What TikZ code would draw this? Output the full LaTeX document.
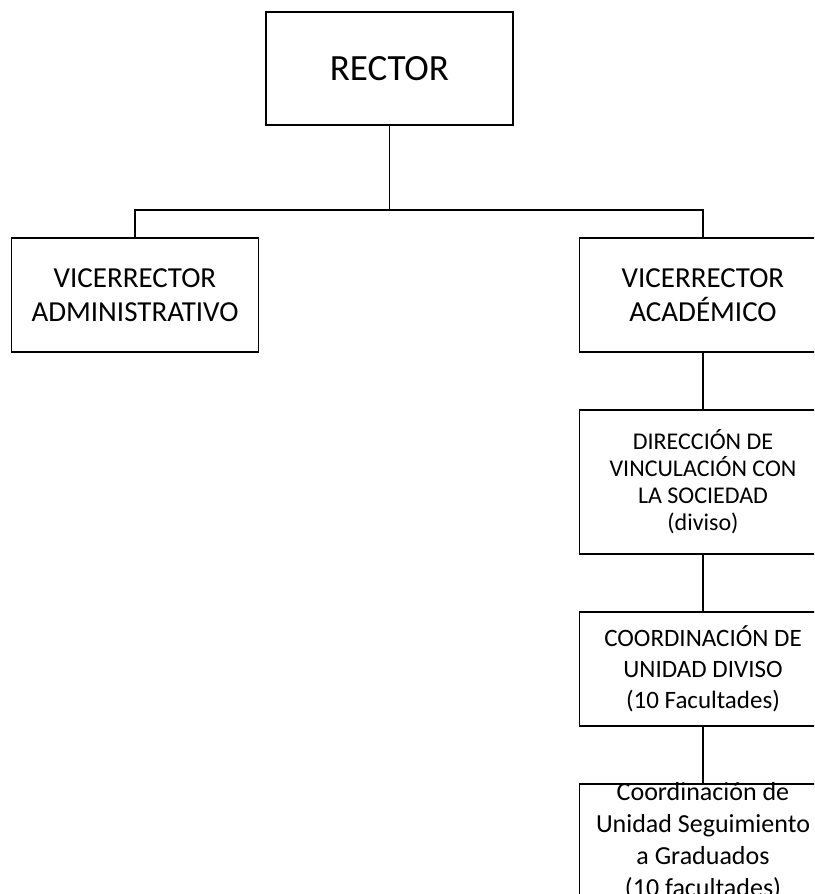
\documentclass[tikz,border=0pt]{standalone}
\usepackage{fontspec}
\setmainfont{Carlito}
\usetikzlibrary{positioning}

\begin{document}
\begin{tikzpicture}[
  x=1pt, y=-1pt,
  node distance=56pt,
  orgbox/.style={rectangle, draw=black, line width=1.9pt, fill=white,
               minimum width=247pt, minimum height=114pt, inner sep=0pt, align=center},
  link/.style={draw=black, line width=1.9pt}
]
\useasboundingbox (0,0) rectangle (814,894);
\clip (0,0) rectangle (814,894);
\node[orgbox, minimum height=113pt, font=\fontsize{37}{44}\selectfont] (rector) at (389.5,68.5) {RECTOR};
\node[orgbox, font=\fontsize{29}{34}\selectfont] (vicadm) at (135,295) {VICERRECTOR\\ADMINISTRATIVO};
\node[orgbox, font=\fontsize{29}{34}\selectfont] (vicaca) at (703,295) {VICERRECTOR\\ACADÉMICO};
\node[orgbox, minimum height=144pt, below=of vicaca, font=\fontsize{24}{27}\selectfont] (dirvin) {DIRECCIÓN DE\\VINCULACIÓN CON\\LA SOCIEDAD\\(diviso)};
\node[orgbox, below=of dirvin, font=\fontsize{25}{31}\selectfont] (coordiv) {COORDINACIÓN DE\\UNIDAD DIVISO\\(10 Facultades)};
\node[orgbox, below=of coordiv] (coordgrad) {};
\node[inner sep=0pt, align=center, font=\fontsize{26}{32}\selectfont] (gradtext) at ([yshift=-1pt]coordgrad.center) {Coordinación de\\Unidad Seguimiento\\a Graduados\\(10 facultades)};
\coordinate (bus) at (389.5,210);
\draw[link] (rector.south) -- (bus);
\draw[link] (vicadm.north) |- (bus) -| (vicaca.north);
\draw[link] (vicaca) -- (dirvin);
\draw[link] (dirvin) -- (coordiv);
\draw[link] (coordiv) -- (coordgrad);
\end{tikzpicture}
\end{document}
